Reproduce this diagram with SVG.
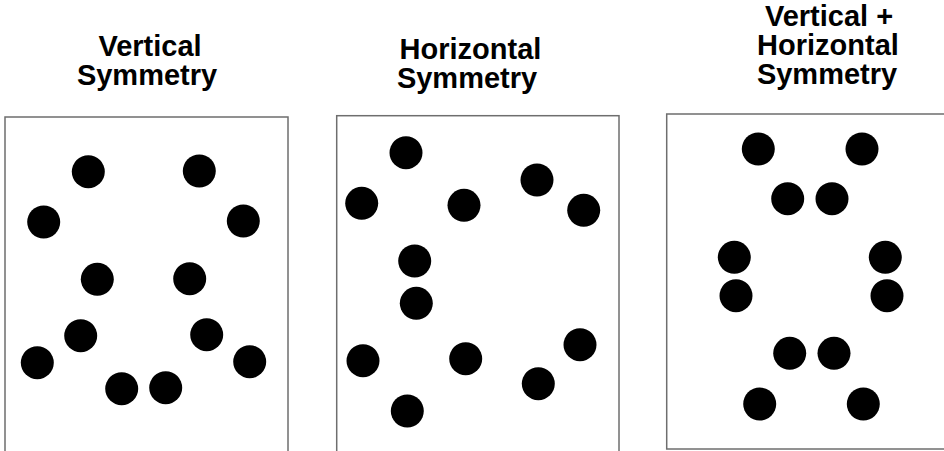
<svg xmlns="http://www.w3.org/2000/svg" width="944" height="451" viewBox="0 0 944 451">
<style>
.t{font-family:"Liberation Sans",Arial,sans-serif;font-weight:bold;font-size:29px;fill:#000;text-anchor:middle}
.b{fill:#fff;stroke:#6e6e6e;stroke-width:1.5}
.d{fill:#000}
</style>
<rect width="944" height="451" fill="#fff"/>
<g id="panel-vertical">
<text class="t" x="150" y="55.5">Vertical</text>
<text class="t" x="147" y="84.5">Symmetry</text>
<rect class="b" x="5" y="117" width="283" height="340"/>
<circle class="d" cx="88.3" cy="171.7" r="16.5"/>
<circle class="d" cx="199.3" cy="171" r="16.5"/>
<circle class="d" cx="43.7" cy="222" r="16.5"/>
<circle class="d" cx="243.3" cy="221" r="16.5"/>
<circle class="d" cx="97.3" cy="279.3" r="16.5"/>
<circle class="d" cx="189.7" cy="278.7" r="16.5"/>
<circle class="d" cx="80.7" cy="335.7" r="16.5"/>
<circle class="d" cx="206.7" cy="334.7" r="16.5"/>
<circle class="d" cx="37.3" cy="362.7" r="16.5"/>
<circle class="d" cx="249.7" cy="361.7" r="16.5"/>
<circle class="d" cx="121.7" cy="388.7" r="16.5"/>
<circle class="d" cx="165.7" cy="387.7" r="16.5"/>
</g>
<g id="panel-horizontal">
<text class="t" x="470.5" y="58.5">Horizontal</text>
<text class="t" x="467" y="87.5">Symmetry</text>
<rect class="b" x="336.7" y="115.7" width="282.3" height="340"/>
<circle class="d" cx="406" cy="152.7" r="16.5"/>
<circle class="d" cx="361.7" cy="203.3" r="16.5"/>
<circle class="d" cx="464" cy="205.3" r="16.5"/>
<circle class="d" cx="537" cy="180" r="16.5"/>
<circle class="d" cx="583.7" cy="210.3" r="16.5"/>
<circle class="d" cx="414.7" cy="261" r="16.5"/>
<circle class="d" cx="416.3" cy="303.3" r="16.5"/>
<circle class="d" cx="363" cy="360.7" r="16.5"/>
<circle class="d" cx="465.7" cy="358.7" r="16.5"/>
<circle class="d" cx="580" cy="344.7" r="16.5"/>
<circle class="d" cx="538.3" cy="383.7" r="16.5"/>
<circle class="d" cx="407.3" cy="411" r="16.5"/>
</g>
<g id="panel-both">
<text class="t" x="829" y="26">Vertical +</text>
<text class="t" x="828" y="55">Horizontal</text>
<text class="t" x="827" y="84">Symmetry</text>
<rect class="b" x="666.7" y="114" width="290" height="335"/>
<circle class="d" cx="758.3" cy="149" r="16.5"/>
<circle class="d" cx="862" cy="149" r="16.5"/>
<circle class="d" cx="787.7" cy="198.7" r="16.5"/>
<circle class="d" cx="832" cy="198.7" r="16.5"/>
<circle class="d" cx="734.3" cy="257.3" r="16.5"/>
<circle class="d" cx="885.3" cy="257.3" r="16.5"/>
<circle class="d" cx="736" cy="295.7" r="16.5"/>
<circle class="d" cx="887" cy="295.7" r="16.5"/>
<circle class="d" cx="789.7" cy="353.3" r="16.5"/>
<circle class="d" cx="834" cy="353.3" r="16.5"/>
<circle class="d" cx="759.7" cy="404" r="16.5"/>
<circle class="d" cx="863.3" cy="404" r="16.5"/>
</g>
</svg>
